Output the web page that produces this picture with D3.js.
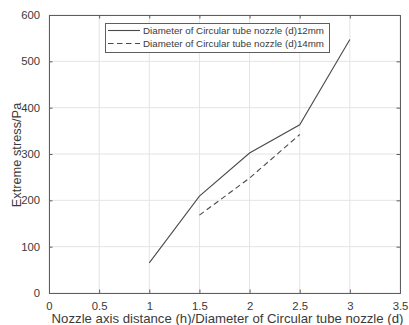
<!DOCTYPE html>
<html>
<head>
<meta charset="utf-8">
<script src="https://cdn.jsdelivr.net/npm/d3@7"></script>
<style>
  html, body { margin: 0; padding: 0; background: #fff; }
  svg { display: block; font-family: "Liberation Sans", Arial, Helvetica, sans-serif; }
</style>
</head>
<body>
<svg id="chart" width="409" height="325"></svg>
<script>
// Ratio h/d and extreme stress for two nozzle diameters
const ratio12 = [1, 1.5, 2, 2.5, 3];
const stress12 = [65, 209, 302, 363, 547];
const ratio14 = [1.5, 2, 2.5];
const stress14 = [168, 248, 342];

const xTicks = [0, 0.5, 1, 1.5, 2, 2.5, 3, 3.5];
const yTicks = [0, 100, 200, 300, 400, 500, 600];

const seriesNames = [
  "Diameter of Circular tube nozzle (d)12mm",
  "Diameter of Circular tube nozzle (d)14mm"
];

const axisLabelX = "Nozzle axis distance (h)/Diameter of Circular tube nozzle (d)";
const axisLabelY = "Extreme stress/Pa";

const plot = { left: 49, right: 400, top: 15, bottom: 293 };

const svg = d3.select("#chart");

const x = d3.scaleLinear().domain([0, 3.5]).range([plot.left, plot.right]);
const y = d3.scaleLinear().domain([0, 600]).range([plot.bottom, plot.top]);

const axisColor = "#5e5e5e";
const textColor = "#3a3a3a";
const lineColor = "#4a4a4a";

// grid
const grid = svg.append("g");
grid.selectAll("line.gx").data(xTicks).join("line")
  .attr("x1", d => x(d)).attr("x2", d => x(d))
  .attr("y1", plot.top).attr("y2", plot.bottom)
  .attr("stroke", "#e4e4e4").attr("stroke-width", 1);
grid.selectAll("line.gy").data(yTicks).join("line")
  .attr("y1", d => y(d)).attr("y2", d => y(d))
  .attr("x1", plot.left).attr("x2", plot.right)
  .attr("stroke", "#e4e4e4").attr("stroke-width", 1);

// axes with inward ticks on all four sides
const tickLen = 3.5;
const fmt = d3.format("~g");

const bottomAxis = svg.append("g")
  .attr("transform", `translate(0,${plot.bottom})`)
  .call(d3.axisBottom(x).tickValues(xTicks).tickFormat(fmt).tickSize(-tickLen).tickPadding(8.5));
const topAxis = svg.append("g")
  .attr("transform", `translate(0,${plot.top})`)
  .call(d3.axisTop(x).tickValues(xTicks).tickFormat("").tickSize(-tickLen));
const leftAxis = svg.append("g")
  .attr("transform", `translate(${plot.left},0)`)
  .call(d3.axisLeft(y).tickValues(yTicks).tickFormat(fmt).tickSize(-tickLen).tickPadding(9));
const rightAxis = svg.append("g")
  .attr("transform", `translate(${plot.right},0)`)
  .call(d3.axisRight(y).tickValues(yTicks).tickFormat("").tickSize(-tickLen));

[bottomAxis, topAxis, leftAxis, rightAxis].forEach(g => {
  g.select(".domain").attr("stroke", axisColor).attr("stroke-width", 1);
  g.selectAll(".tick line").attr("stroke", axisColor).attr("stroke-width", 1);
  g.selectAll(".tick text")
    .attr("fill", textColor)
    .style("font-size", "11.3px")
    .style("font-family", "'Liberation Sans', Arial, sans-serif");
});

// data lines
const line = d3.line().x(d => x(d[0])).y(d => y(d[1]));
const pts12 = ratio12.map((r, i) => [r, stress12[i]]);
const pts14 = ratio14.map((r, i) => [r, stress14[i]]);

svg.append("path").datum(pts12)
  .attr("d", line)
  .attr("fill", "none").attr("stroke", lineColor).attr("stroke-width", 1.1);
svg.append("path").datum(pts14)
  .attr("d", line)
  .attr("fill", "none").attr("stroke", lineColor).attr("stroke-width", 1.1)
  .attr("stroke-dasharray", "5.5,3.5");

// axis labels
svg.append("text")
  .attr("x", (plot.left + plot.right) / 2 + 3)
  .attr("y", 323)
  .attr("text-anchor", "middle")
  .attr("fill", textColor)
  .style("font-size", "13.2px")
  .text(axisLabelX);

svg.append("text")
  .attr("transform", `translate(20.5,${(plot.top + plot.bottom) / 2 + 1}) rotate(-90)`)
  .attr("text-anchor", "middle")
  .attr("fill", textColor)
  .style("font-size", "12.8px")
  .text(axisLabelY);

// legend
const legend = svg.append("g");
const lg = { x: 105, y: 23, w: 224, h: 29 };
legend.append("rect")
  .attr("x", lg.x + 0.5).attr("y", lg.y + 0.5)
  .attr("width", lg.w).attr("height", lg.h)
  .attr("fill", "#fff").attr("stroke", axisColor).attr("stroke-width", 1);

const rows = [
  { name: seriesNames[0], dash: null, cy: 30.5 },
  { name: seriesNames[1], dash: "5.5,3.5", cy: 43.5 }
];
rows.forEach(r => {
  legend.append("line")
    .attr("x1", 108).attr("x2", 140)
    .attr("y1", r.cy).attr("y2", r.cy)
    .attr("stroke", lineColor).attr("stroke-width", 1.1)
    .attr("stroke-dasharray", r.dash);
  legend.append("text")
    .attr("x", 143).attr("y", r.cy + 3.5)
    .attr("fill", textColor)
    .style("font-size", "9.75px")
    .text(r.name);
});
</script>
</body>
</html>
